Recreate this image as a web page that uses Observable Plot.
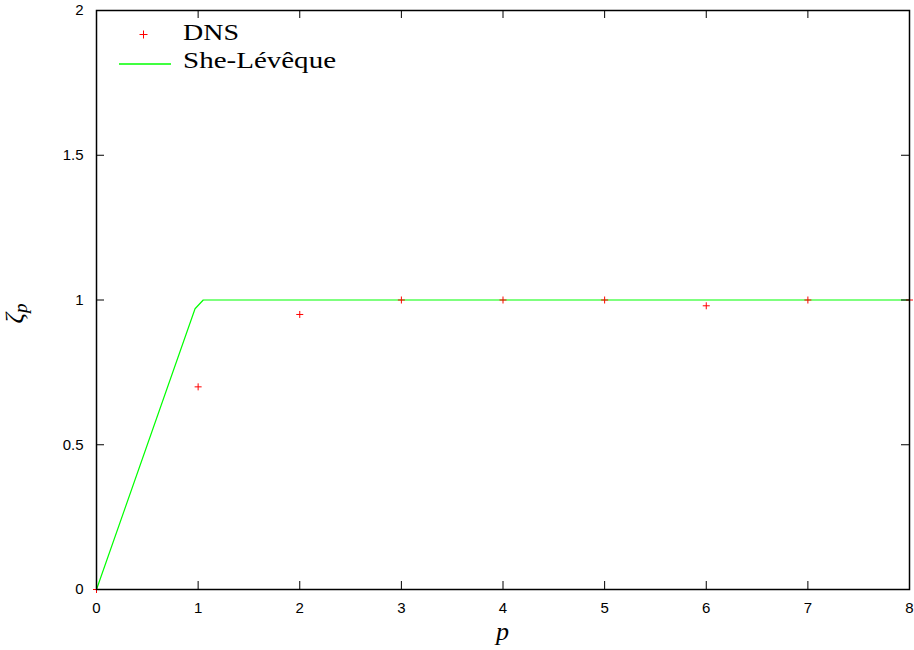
<!DOCTYPE html>
<html><head><meta charset="utf-8">
<script src="https://cdn.jsdelivr.net/npm/d3@7"></script>
<script src="https://cdn.jsdelivr.net/npm/@observablehq/plot@0.6"></script>
<style>body{margin:0;overflow:hidden;background:#fff}</style>
</head><body><div id="chart"></div>
<script>
// DNS scaling exponents
const dnsP = [0, 1, 2, 3, 4, 5, 6, 7, 8];
const dnsZeta = [0, 0.70, 0.95, 1.0, 1.0, 1.0, 0.98, 1.0, 1.0];
// She-Lévêque curve vertices (as sampled)
const slP = [0, 0.9697, 1.0505, 8];
const slZeta = [0, 0.9697, 1.0, 1.0];
// axes
const xTicks = [0, 1, 2, 3, 4, 5, 6, 7, 8];
const yTicks = [0, 0.5, 1, 1.5, 2];
const yTickLabels = ["0", "0.5", "1", "1.5", "2"];
const seriesNames = ["DNS", "She-Lévêque"];
const seriesColors = ["#ff0000", "#00ff00"];

const W = 914, H = 650;
const mL = 96, mR = 5, mT = 10, mB = 61;
const pw = W - mL - mR, ph = H - mT - mB;
const tick = 8;

const dns = dnsP.map((p, i) => ({p, z: dnsZeta[i]}));
const sl = slP.map((p, i) => ({p, z: slZeta[i]}));

const plusSymbol = {
  draw(ctx, size) {
    const r = Math.sqrt(size / Math.PI);
    ctx.moveTo(-r, 0); ctx.lineTo(r, 0);
    ctx.moveTo(0, -r); ctx.lineTo(0, r);
  }
};

const sans = "'Liberation Sans', Arial, Helvetica, sans-serif";
const serif = "'Liberation Serif', 'Times New Roman', serif";

const chart = Plot.plot({
  width: W, height: H,
  marginLeft: mL, marginRight: mR, marginTop: mT, marginBottom: mB,
  x: {domain: [0, 8], axis: null},
  y: {domain: [0, 2], axis: null},
  style: {fontFamily: sans, fontSize: "15px", background: "white", overflow: "visible"},
  marks: [
    Plot.line(sl, {x: "p", y: "z", stroke: seriesColors[1], strokeWidth: 1.2}),
    Plot.dot(dns, {x: "p", y: "z", symbol: plusSymbol, r: 3.5, stroke: seriesColors[0], fill: "none", strokeWidth: 1}),
    Plot.frame({stroke: "black", strokeWidth: 1.5}),
    Plot.tickX(xTicks, {x: d => d, insetTop: ph - tick, stroke: "black"}),
    Plot.tickX(xTicks, {x: d => d, insetBottom: ph - tick, stroke: "black"}),
    Plot.tickY(yTicks, {y: d => d, insetRight: pw - tick, stroke: "black"}),
    Plot.tickY(yTicks, {y: d => d, insetLeft: pw - tick, stroke: "black"}),
    Plot.text(xTicks, {x: d => d, frameAnchor: "bottom", lineAnchor: "top", dy: 13, text: d => String(d), fill: "black"}),
    Plot.text(yTicks, {y: d => d, frameAnchor: "left", textAnchor: "end", dx: -13, text: (d, i) => yTickLabels[i], fill: "black"})
  ]
});

const svg = d3.select(chart);
// legend
const lg = svg.append("g").attr("font-family", serif).attr("font-size", 24).attr("text-anchor", "start").attr("fill", "black");
const lx = mL, ly = mT;
lg.append("path").attr("d", `M${lx+43.5},${ly+24.5}h8M${lx+47.5},${ly+20.5}v8`).attr("stroke", seriesColors[0]).attr("fill", "none");
lg.append("text").attr("x", lx + 87).attr("y", ly + 30).attr("textLength", 56).attr("lengthAdjust", "spacingAndGlyphs").text(seriesNames[0]);
lg.append("line").attr("x1", lx + 23).attr("x2", lx + 75).attr("y1", ly + 54).attr("y2", ly + 54).attr("stroke", seriesColors[1]).attr("stroke-width", 1.5);
lg.append("text").attr("x", lx + 87).attr("y", ly + 58).attr("textLength", 153).attr("lengthAdjust", "spacingAndGlyphs").text(seriesNames[1]);
// axis labels
svg.append("text").attr("x", mL + pw / 2).attr("y", H - 10).attr("text-anchor", "middle")
  .attr("font-family", serif).attr("font-style", "italic").attr("font-size", 26).text("p");
const yl = svg.append("text").attr("transform", `translate(23,${mT + ph / 2 + 14}) rotate(-90)`)
  .attr("text-anchor", "middle").attr("font-family", serif).attr("font-style", "italic").attr("font-size", 26);
yl.append("tspan").text("ζ");
yl.append("tspan").attr("font-size", 19).attr("dy", 4).text("p");

document.getElementById("chart").appendChild(chart);
</script>
</body></html>
